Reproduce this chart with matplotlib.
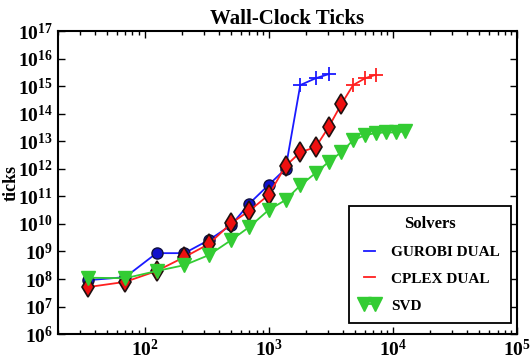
import numpy as np
import matplotlib
matplotlib.use('Agg')
from matplotlib import pyplot as plt
from matplotlib.ticker import NullLocator, LogLocator

# problem sizes along x
sizes = [35, 70, 125, 210, 330, 500, 700, 1000, 1370, 1800, 2400, 3050,
         3850, 4800, 6000, 7300, 8800, 10700, 12500]

# wall-clock ticks for each solver
gurobi = [9.1e7, 1.17e8, 8.7e8, 8.7e8, 2.6e9, 9.1e9, 5.5e10, 2.6e11, 1.0e12,
          1.1e15, 1.95e15, 2.75e15]
cplex = [5.1e7, 7.9e7, 1.95e8, 6.3e8, 1.86e9, 1.07e10, 3.0e10, 1.12e11, 1.26e12,
         4.0e12, 6.2e12, 3.3e13, 2.2e14, 1.1e15, 1.95e15, 2.6e15]
svd = [1.12e8, 1.07e8, 1.95e8, 3.2e8, 7.4e8, 2.6e9, 7.8e9, 3.2e10, 7.4e10,
       2.5e11, 7.1e11, 1.8e12, 4.0e12, 1.1e13, 1.66e13, 2.0e13, 2.1e13, 2.1e13, 2.3e13]

# how many points of each solver are drawn with the solid marker (rest are '+')
gurobi_solved = 9
cplex_solved = 13

plt.rcParams['font.family'] = ['Liberation Serif', 'DejaVu Serif']
plt.rcParams['font.weight'] = 'bold'
plt.rcParams['mathtext.fontset'] = 'custom'
plt.rcParams['mathtext.rm'] = 'Liberation Serif:bold'
plt.rcParams['mathtext.it'] = 'Liberation Serif:bold'
plt.rcParams['mathtext.bf'] = 'Liberation Serif:bold'
plt.rcParams['mathtext.default'] = 'rm'

fig = plt.figure(figsize=(5.3, 3.62), dpi=100)
ax = fig.add_axes([0.109, 0.077, 0.866, 0.837])

xg = sizes[:len(gurobi)]
xc = sizes[:len(cplex)]
xs = sizes[:len(svd)]

# gurobi
ax.plot(xg, gurobi, color='#1a1aff', lw=1.3, label='GUROBI DUAL')
ax.plot(xg[:gurobi_solved], gurobi[:gurobi_solved], ls='none', marker='o', ms=8,
        mfc='#1010cc', mec='#101040', mew=1)
ax.plot(xg[gurobi_solved:], gurobi[gurobi_solved:], ls='none', marker='+', ms=10,
        mec='#1a1aff', mew=1.3)

# cplex
ax.plot(xc, cplex, color='#ff2020', lw=1.3, label='CPLEX DUAL')
ax.plot(xc[:cplex_solved], cplex[:cplex_solved], ls='none', marker='d', ms=10,
        mfc='#ee1010', mec='#201010', mew=1.2)
ax.plot(xc[cplex_solved:], cplex[cplex_solved:], ls='none', marker='+', ms=10,
        mec='#ff2020', mew=1.3)

# svd
ax.plot(xs, svd, color='#33cc33', lw=1.3, marker='v', ms=10, mfc='#33cc33',
        mec='#33cc33', label='SVD')

ax.set_xscale('log')
ax.set_yscale('log')
ax.set_xlim(20, 1e5)
ax.set_ylim(1e6, 1e17)
ax.set_yticks([10.0 ** i for i in range(6, 18)])
ax.yaxis.set_minor_locator(NullLocator())
ax.xaxis.set_minor_locator(LogLocator(base=10, subs=np.arange(2, 10), numticks=20))

ax.tick_params(which='both', direction='in', top=True, right=True, labelsize=14)
ax.tick_params(which='major', length=5, width=1)
ax.tick_params(which='minor', length=3, width=1)
for sp in ax.spines.values():
    sp.set_linewidth(1.5)

ax.set_title('Wall-Clock Ticks', fontsize=15, fontweight='bold', pad=5)
ax.set_ylabel('ticks', fontsize=13, fontweight='bold')
ax.yaxis.set_label_coords(-0.082, 0.5)

leg = ax.legend(loc='lower right', bbox_to_anchor=(0.987, 0.036), borderaxespad=0,
                title='Solvers', fontsize=11, numpoints=2, handlelength=1.3,
                fancybox=False, edgecolor='black', labelspacing=0.85,
                borderpad=0.7, framealpha=1)
leg.get_title().set_fontsize(12)
leg.get_title().set_fontweight('bold')
leg.get_frame().set_linewidth(1.3)

plt.savefig('out.png', dpi=100)
